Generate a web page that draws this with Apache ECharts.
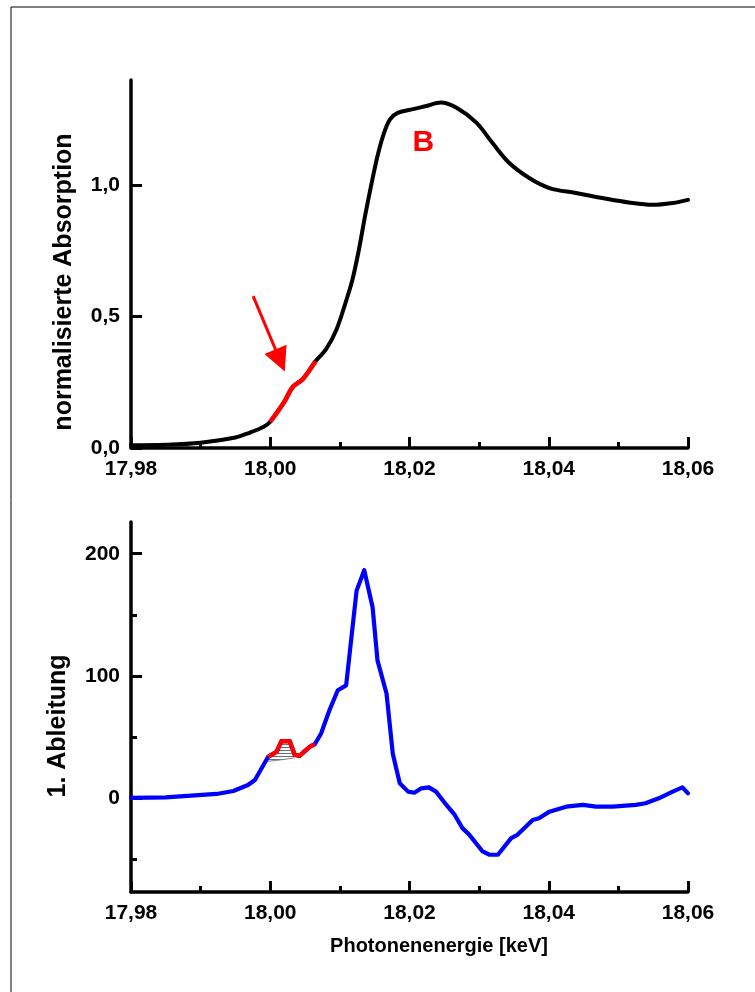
<!DOCTYPE html>
<html>
<head>
<meta charset="utf-8">
<script src="https://cdn.jsdelivr.net/npm/echarts@6/dist/echarts.min.js"></script>
<style>
html,body{margin:0;padding:0;background:#fff;}
#c{width:755px;height:992px;}
</style>
</head>
<body>
<div id="c"></div>
<script>
// ---- Data ----
// Top panel: normalised absorption vs photon energy [keV]
const absE = [17.980, 17.985, 17.990, 17.995, 17.997, 17.999, 18.000, 18.002, 18.0032, 18.0047, 18.0065,
              18.008, 18.0095, 18.0109, 18.0118, 18.0127, 18.0136, 18.0145, 18.0154, 18.0163, 18.0172,
              18.0183, 18.0205, 18.0224, 18.0245, 18.0267, 18.0296, 18.0319, 18.0343, 18.0372, 18.0401,
              18.0439, 18.0477, 18.0515, 18.0549, 18.0578, 18.060];
const absV = [0.010, 0.012, 0.020, 0.040, 0.058, 0.080, 0.100, 0.175, 0.231, 0.263, 0.330,
              0.375, 0.450, 0.560, 0.640, 0.750, 0.880, 1.000, 1.110, 1.195, 1.250,
              1.275, 1.289, 1.301, 1.314, 1.295, 1.238, 1.161, 1.085, 1.027, 0.989,
              0.970, 0.951, 0.934, 0.925, 0.932, 0.944];
const absRedRange = [18.000, 18.0065];

// Bottom panel: first derivative
const derE = [17.980, 17.985, 17.9923, 17.9947, 17.9968, 17.9978, 17.9997, 18.0009, 18.0016, 18.0028,
              18.0035, 18.0042, 18.0057, 18.0064, 18.0073, 18.0085, 18.0097, 18.0109, 18.0124, 18.0135,
              18.0147, 18.0154, 18.0167, 18.0176, 18.0186, 18.0198, 18.0207, 18.0217, 18.0228, 18.0238,
              18.0253, 18.0265, 18.0276, 18.0286, 18.0305, 18.0315, 18.0327, 18.0346, 18.0355, 18.0377,
              18.0386, 18.0401, 18.0425, 18.0449, 18.0468, 18.0492, 18.0525, 18.0539, 18.0558, 18.0578,
              18.0592, 18.060];
const derV = [0, 0.5, 3.3, 5.7, 10.6, 14.7, 33.7, 37.8, 46.5, 46.5,
              35.5, 34.5, 42.0, 44.0, 52.8, 71.8, 88.2, 92.2, 169.8, 186.5,
              156.2, 112.7, 85.5, 36.3, 12.0, 5.2, 4.3, 7.9, 8.7, 5.2,
              -5.7, -13.9, -24.7, -30.2, -43.8, -46.5, -46.5, -32.9, -30.2, -18.0,
              -16.6, -11.2, -7.1, -5.7, -7.1, -7.1, -5.7, -4.3, -0.3, 5.2,
              8.7, 3.8];
const derRedRange = [17.9997, 18.0064];
// hatched region under the pre-edge bump (lower boundary)
const hatchE    = [17.9997, 18.0009, 18.0016, 18.0028, 18.0035];
const hatchBase = [30.0, 30.8, 31.3, 32.2, 33.0];
const hatchFloor = 29.5;

// Axis ticks / labels
const absTicks = [0, 0.5, 1.0];
const derMajor = [0, 100, 200];
const derMinor = [-50, 50, 150];

// Annotations
const arrowFrom = [17.99754, 0.578];
const arrowTo = [18.00142, 0.333];
const labelB = [18.022, 1.162];

// ---- Build ----
const FONT = "'Liberation Sans', Arial, Helvetica, sans-serif";
const zip = (a, b) => a.map((v, i) => [v, b[i]]);
const inRange = (a, b, r) => zip(a, b).filter(p => p[0] >= r[0] - 1e-9 && p[0] <= r[1] + 1e-9);
const fmt = d => v => v.toFixed(d).replace('.', ',');
const hatchTop = hatchE.map(e => derV[derE.indexOf(e)]);

// hatch pattern: horizontal grey lines on white
const pat = document.createElement('canvas');
pat.width = 6; pat.height = 3;
const pc = pat.getContext('2d');
pc.fillStyle = '#ffffff'; pc.fillRect(0, 0, 6, 3);
pc.fillStyle = '#6e6e6e'; pc.fillRect(0, 0, 6, 1);

const axisLineStyle = { color: '#000', width: 3.5 };
const labelStyle = { color: '#000', fontFamily: FONT, fontWeight: 'bold', fontSize: 21 };

function xAxisDef(gridIndex) {
  return {
    type: 'value', gridIndex, min: 17.98, max: 18.06, interval: 0.02,
    axisLine: { show: true, onZero: false, lineStyle: axisLineStyle },
    axisTick: { show: true, inside: true, length: 11, lineStyle: { color: '#000', width: 3 } },
    minorTick: { show: true, splitNumber: 2, length: 6, lineStyle: { color: '#000', width: 3 } },
    axisLabel: Object.assign({ margin: 11, formatter: fmt(2), showMinLabel: true, showMaxLabel: true }, labelStyle),
    splitLine: { show: false }, minorSplitLine: { show: false }
  };
}

const option = {
  animation: false,
  backgroundColor: '#fff',
  grid: [
    { left: 131, right: 67, top: 80, height: 368 },
    { left: 131, right: 67, top: 522, height: 370 }
  ],
  xAxis: [xAxisDef(0), xAxisDef(1)],
  yAxis: [
    {
      type: 'value', gridIndex: 0, min: 0, max: 1.4,
      axisLine: { show: true, onZero: false, lineStyle: axisLineStyle },
      axisTick: { show: true, inside: true, length: 11, customValues: absTicks, lineStyle: { color: '#000', width: 3 } },
      axisLabel: Object.assign({ margin: 11, customValues: absTicks, formatter: fmt(1) }, labelStyle),
      splitLine: { show: false }
    },
    {
      type: 'value', gridIndex: 1, min: -77, max: 226,
      axisLine: { show: true, onZero: false, lineStyle: axisLineStyle },
      axisTick: { show: true, inside: true, length: 11, customValues: derMajor, lineStyle: { color: '#000', width: 3 } },
      axisLabel: Object.assign({ margin: 11, customValues: derMajor, formatter: v => String(v) }, labelStyle),
      splitLine: { show: false }
    },
    {
      type: 'value', gridIndex: 1, min: -77, max: 226, position: 'left',
      axisLine: { show: false },
      axisTick: { show: true, inside: true, length: 6, customValues: derMinor, lineStyle: { color: '#000', width: 3 } },
      axisLabel: { show: false },
      splitLine: { show: false }
    }
  ],
  graphic: [
    { type: 'line', shape: { x1: 11, y1: 7, x2: 755, y2: 7 }, style: { stroke: '#000', lineWidth: 1 } },
    { type: 'line', shape: { x1: 11, y1: 7, x2: 11, y2: 992 }, style: { stroke: '#000', lineWidth: 1 } },
    { type: 'text', x: 64, y: 282, rotation: Math.PI / 2,
      style: { text: 'normalisierte Absorption', fill: '#000', font: 'bold 25px ' + FONT, align: 'center', verticalAlign: 'middle' } },
    { type: 'text', x: 58, y: 726, rotation: Math.PI / 2,
      style: { text: '1. Ableitung', fill: '#000', font: 'bold 25px ' + FONT, align: 'center', verticalAlign: 'middle' } },
    { type: 'text', x: 439, y: 946,
      style: { text: 'Photonenenergie [keV]', fill: '#000', font: 'bold 20px ' + FONT, align: 'center', verticalAlign: 'middle' } }
  ],
  series: [
    {
      name: 'Absorption', type: 'line', xAxisIndex: 0, yAxisIndex: 0,
      data: zip(absE, absV), smooth: 0.35, showSymbol: false, symbol: 'none', z: 2,
      lineStyle: { color: '#000', width: 4, cap: 'round', join: 'round' }
    },
    {
      name: 'Absorption (Vorkante)', type: 'line', xAxisIndex: 0, yAxisIndex: 0,
      data: inRange(absE, absV, absRedRange), smooth: 0.35, showSymbol: false, symbol: 'none', z: 3,
      lineStyle: { color: '#ff0000', width: 4.6, cap: 'butt', join: 'round' },
      markLine: {
        silent: true, symbol: ['none', 'triangle'], symbolSize: 24,
        label: { show: false },
        lineStyle: { color: '#ff0000', width: 3, type: 'solid' },
        data: [[{ coord: arrowFrom }, { coord: arrowTo }]]
      },
      markPoint: {
        silent: true,
        data: [{ coord: labelB, symbol: 'circle', symbolSize: 1, itemStyle: { color: 'rgba(0,0,0,0)' },
          label: { show: true, position: 'inside', formatter: 'B', color: '#ff0000', fontFamily: FONT, fontWeight: 'bold', fontSize: 30 } }]
      }
    },
    {
      // hatch pattern layer
      name: 'hatch', type: 'line', xAxisIndex: 1, yAxisIndex: 1,
      data: zip(hatchE, hatchTop), showSymbol: false, symbol: 'none', z: 1,
      lineStyle: { opacity: 0 },
      areaStyle: { color: { image: pat, repeat: 'repeat' }, opacity: 1, origin: hatchFloor }
    },
    {
      // white mask below the straight lower boundary of the hatched area
      name: 'hatchMask', type: 'line', xAxisIndex: 1, yAxisIndex: 1,
      data: zip(hatchE, hatchBase), showSymbol: false, symbol: 'none', z: 1,
      lineStyle: { color: '#808080', width: 1 },
      areaStyle: { color: '#ffffff', opacity: 1, origin: hatchFloor - 1 }
    },
    {
      name: '1. Ableitung', type: 'line', xAxisIndex: 1, yAxisIndex: 1,
      data: zip(derE, derV), showSymbol: false, symbol: 'none', z: 2,
      lineStyle: { color: '#0000ff', width: 4.2, cap: 'round', join: 'round' }
    },
    {
      name: '1. Ableitung (Vorkante)', type: 'line', xAxisIndex: 1, yAxisIndex: 1,
      data: inRange(derE, derV, derRedRange), showSymbol: false, symbol: 'none', z: 3,
      lineStyle: { color: '#ff0000', width: 4.4, cap: 'butt', join: 'round' }
    }
  ]
};

const chart = echarts.init(document.getElementById('c'), null, { renderer: 'canvas' });
chart.setOption(option);
</script>
</body>
</html>
